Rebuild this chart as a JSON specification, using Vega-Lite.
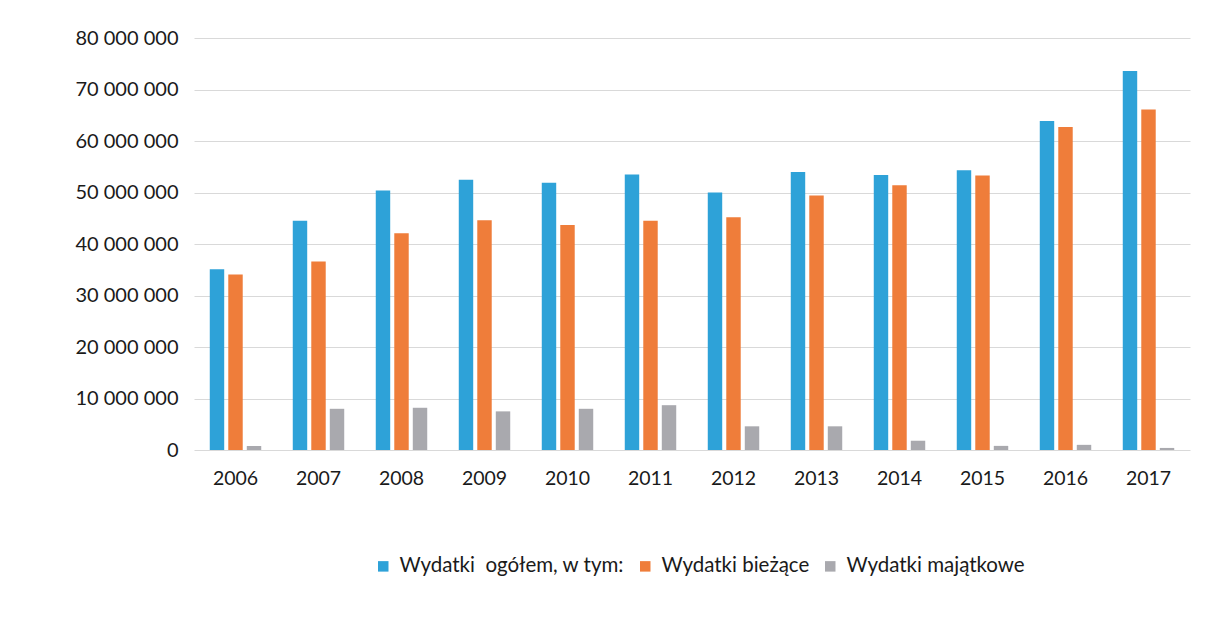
{
  "$schema": "https://vega.github.io/schema/vega-lite/v6.json",
  "autosize": {"type": "none"},
  "width": 996,
  "height": 412,
  "padding": {"left": 194, "top": 38, "right": 34, "bottom": 171},
  "background": "white",
  "config": {
    "view": {"stroke": null},
    "font": "Lato",
    "axis": {"labelFont": "Lato", "labelColor": "#1a1a1a"}
  },
  "data": {
    "values": [
      {"rok": "2006", "seria": "Wydatki  ogółem, w tym:", "wartosc": 35100000},
      {"rok": "2006", "seria": "Wydatki bieżące", "wartosc": 34100000},
      {"rok": "2006", "seria": "Wydatki majątkowe", "wartosc": 800000},
      {"rok": "2007", "seria": "Wydatki  ogółem, w tym:", "wartosc": 44500000},
      {"rok": "2007", "seria": "Wydatki bieżące", "wartosc": 36600000},
      {"rok": "2007", "seria": "Wydatki majątkowe", "wartosc": 8000000},
      {"rok": "2008", "seria": "Wydatki  ogółem, w tym:", "wartosc": 50400000},
      {"rok": "2008", "seria": "Wydatki bieżące", "wartosc": 42100000},
      {"rok": "2008", "seria": "Wydatki majątkowe", "wartosc": 8200000},
      {"rok": "2009", "seria": "Wydatki  ogółem, w tym:", "wartosc": 52500000},
      {"rok": "2009", "seria": "Wydatki bieżące", "wartosc": 44600000},
      {"rok": "2009", "seria": "Wydatki majątkowe", "wartosc": 7500000},
      {"rok": "2010", "seria": "Wydatki  ogółem, w tym:", "wartosc": 51900000},
      {"rok": "2010", "seria": "Wydatki bieżące", "wartosc": 43700000},
      {"rok": "2010", "seria": "Wydatki majątkowe", "wartosc": 8000000},
      {"rok": "2011", "seria": "Wydatki  ogółem, w tym:", "wartosc": 53500000},
      {"rok": "2011", "seria": "Wydatki bieżące", "wartosc": 44500000},
      {"rok": "2011", "seria": "Wydatki majątkowe", "wartosc": 8700000},
      {"rok": "2012", "seria": "Wydatki  ogółem, w tym:", "wartosc": 50000000},
      {"rok": "2012", "seria": "Wydatki bieżące", "wartosc": 45200000},
      {"rok": "2012", "seria": "Wydatki majątkowe", "wartosc": 4600000},
      {"rok": "2013", "seria": "Wydatki  ogółem, w tym:", "wartosc": 54000000},
      {"rok": "2013", "seria": "Wydatki bieżące", "wartosc": 49400000},
      {"rok": "2013", "seria": "Wydatki majątkowe", "wartosc": 4600000},
      {"rok": "2014", "seria": "Wydatki  ogółem, w tym:", "wartosc": 53400000},
      {"rok": "2014", "seria": "Wydatki bieżące", "wartosc": 51400000},
      {"rok": "2014", "seria": "Wydatki majątkowe", "wartosc": 1800000},
      {"rok": "2015", "seria": "Wydatki  ogółem, w tym:", "wartosc": 54300000},
      {"rok": "2015", "seria": "Wydatki bieżące", "wartosc": 53300000},
      {"rok": "2015", "seria": "Wydatki majątkowe", "wartosc": 800000},
      {"rok": "2016", "seria": "Wydatki  ogółem, w tym:", "wartosc": 63900000},
      {"rok": "2016", "seria": "Wydatki bieżące", "wartosc": 62700000},
      {"rok": "2016", "seria": "Wydatki majątkowe", "wartosc": 1000000},
      {"rok": "2017", "seria": "Wydatki  ogółem, w tym:", "wartosc": 73600000},
      {"rok": "2017", "seria": "Wydatki bieżące", "wartosc": 66100000},
      {"rok": "2017", "seria": "Wydatki majątkowe", "wartosc": 400000}
    ]
  },
  "mark": {"type": "bar"},
  "encoding": {
    "x": {
      "field": "rok",
      "type": "nominal",
      "scale": {"paddingInner": 0.38, "paddingOuter": 0.19},
      "axis": {
        "title": null,
        "labelAngle": 0,
        "labelFontSize": 19.5,
        "labelPadding": 19,
        "ticks": false,
        "domain": false,
        "grid": false
      }
    },
    "xOffset": {
      "field": "seria",
      "type": "nominal",
      "sort": ["Wydatki  ogółem, w tym:", "Wydatki bieżące", "Wydatki majątkowe"],
      "scale": {"paddingInner": 0.22}
    },
    "y": {
      "field": "wartosc",
      "type": "quantitative",
      "scale": {"domain": [0, 80000000], "nice": false},
      "axis": {
        "title": null,
        "values": [0, 10000000, 20000000, 30000000, 40000000, 50000000, 60000000, 70000000, 80000000],
        "labelExpr": "replace(format(datum.value, ','), regexp(',', 'g'), ' ')",
        "labelOverlap": false,
        "labelFontSize": 20,
        "labelPadding": 16,
        "ticks": false,
        "domain": false,
        "gridColor": "#d9d9d9",
        "gridWidth": 1
      }
    },
    "color": {
      "field": "seria",
      "type": "nominal",
      "sort": ["Wydatki  ogółem, w tym:", "Wydatki bieżące", "Wydatki majątkowe"],
      "scale": {
        "domain": ["Wydatki  ogółem, w tym:", "Wydatki bieżące", "Wydatki majątkowe"],
        "range": ["#2EA2D8", "#EF7D3A", "#A9A9AE"]
      },
      "legend": {
        "title": null,
        "orient": "none",
        "legendX": 179,
        "legendY": 518,
        "direction": "horizontal",
        "symbolType": "square",
        "symbolSize": 110,
        "symbolStrokeWidth": 0,
        "labelFontSize": 20.5,
        "labelColor": "#1a1a1a",
        "labelOffset": 6,
        "columnPadding": 10,
        "labelLimit": 400,
        "labelExpr": "replace(datum.label, 'Wydatki  ', 'Wydatki\u00a0\u00a0')"
      }
    }
  }
}
